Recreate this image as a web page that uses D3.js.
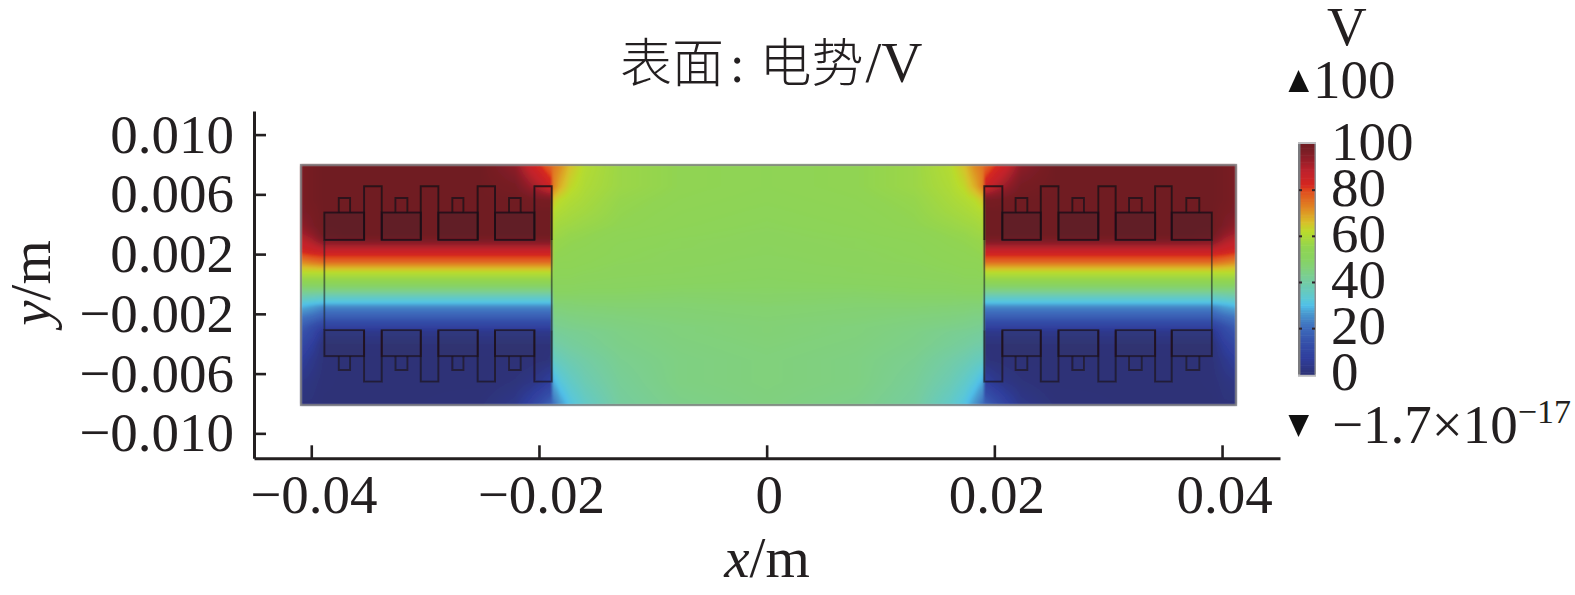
<!DOCTYPE html>
<html><head><meta charset="utf-8">
<script src="https://cdn.jsdelivr.net/npm/d3@7/dist/d3.min.js"></script>
<style>html,body{margin:0;padding:0;background:#fff;overflow:hidden}
text{font-family:"Liberation Serif","Noto Sans CJK SC",serif;fill:#231f20}</style>
</head><body><svg id="c" width="1575" height="595"></svg>
<script>
// ---- values ----
const xTicks=[-0.04,-0.02,0,0.02,0.04];
const xTickLabels=["−0.04","−0.02","0","0.02","0.04"];
const yTicks=[0.010,0.006,0.002,-0.002,-0.006,-0.010];
const yTickLabels=["0.010","0.006","0.002","−0.002","−0.006","−0.010"];
const barTicks=[100,80,60,40,20,0];
const colorVals=[0,1,7,14,21,27,30,33,40,45,50,55,62,66,72,80,82,88,94,97,100];
const colorHex=["#2d3277","#2d3379","#2f3d9c","#3550aa","#3f6fbe","#4a9cd0","#50bfe8","#5bc8d5","#73cca5","#7fd082","#88d362","#90d452","#b9dc2c","#d8c02a","#e08a22","#e04a1f","#d5261f","#c0222c","#8e1e28","#7b1e25","#701b22"];
// grid knots of the potential field (metres)
const fieldXLeft=[-.0409,-.03993,-.03887,-.03703,-.0322,-.02517,-.0221,-.02078,-.01981,-.01889,-.0188,-.01815,-.01727,-.01595,-.01288,-.00761,0];
const fieldXRight=[.00785,.013,.01607,.01739,.01827,.01904,.01912,.02006,.02103,.02235,.02542,.03245,.03728,.03912,.04017,.04123];
const fieldY=[.00795,.00654,.00561,.0048,.00393,.00333,.00293,.00246,.00206,.00146,.00112,.00079,.00012,-.00041,-.00088,-.00128,-.00155,-.00222,-.00289,-.00322,-.00409,-.0051,-.00657,-.00811];
// potential (V) per row of fieldY, per column of fieldXLeft; the right half mirrors it
const fieldHalf=[
[97,99,100,100,100,100,94,86,81,76,75,72,66,61,57,55,54],
[97,99,100,100,100,100,98,93,89,84,74,68,63,60,57,55,54],
[97,99,100,100,100,100,100,99,98,98,65,62,60.5,59,56,54.5,53.5],
[97,98,100,100,100,100,100,100,100,100,61,60,59,58,55.5,54,53],
[94,97,100,100,100,100,100,100,100,100,59,58,57.5,56.5,55,53.5,52.5],
[91,94,99,100,100,100,100,100,100,100,57.5,57,56,55.5,54,53,52],
[88,91,96,97,97,97,97,97,97,97,56.5,56,55.5,55,53.5,52.5,52],
[85,87,90,90,90,90,90,90,90,90,56,55.5,55,54.5,53,52.5,51.5],
[81,83,84,84,84,84,84,84,84,84,55.5,55,54.5,54,53,52,51.5],
[72,74,76,76,76,76,76,76,76,76,54.5,54,54,53.5,52.5,52,51],
[66,67,68,68,68,68,68,68,68,68,54,53.5,53.5,53,52,51.5,51],
[62,62,62,62,62,62,62,62,62,62,53.5,53,53,52.5,52,51.5,50.5],
[54,54,54,54,54,54,54,54,54,54,52,52,52,51.5,51,50.5,50],
[45,45,45,45,45,45,45,45,45,45,50.5,50.5,50.5,50,50,49.5,49.5],
[38,37,36,36,36,36,36,36,36,36,49,49,49,49,49,48.5,49],
[32,31,30,30,30,30,30,30,30,30,47.5,47.5,47.5,48,48,48,48.5],
[29,27,24,24,24,24,24,24,24,24,46.5,46.5,47,47,47.5,47.5,48],
[22,20,17,17,17,17,17,17,17,17,44.5,44.5,45,45.5,46,47,47.5],
[17,13,8,8,8,8,8,8,8,8,42.5,43,43.5,44,45,46,47],
[15,11,4,4,4,4,4,4,4,4,41.5,42,42.5,43,44.5,46,47],
[11,7,1,1,1,1,1,1,1,1,39.5,40,41,42,44,45.5,46.5],
[7,4,1,0,0,0,0,0.5,1,1.5,36,37,38.5,40,43,45,46],
[3,2,0.5,0,0,0,1.5,3,5,8,28,32,35,38,42,45,46],
[1,1,0,0,0,1,4,9,14,19,20,26,31,35,41,44,45.5]];
// electrode outlines (metres)
const leftTeeth=[[-.03536,-.03381],[-.03038,-.02884],[-.02538,-.02386],[-.0204,-.01888]];
const leftTabs=[[-.03758,-.03659],[-.03261,-.03156],[-.02761,-.02664],[-.02263,-.0216]];
const leftBlocks=[[-.03885,-.03536],[-.03381,-.03038],[-.02884,-.02538],[-.02386,-.0204]];
const rightTeeth=[[.01912,.0207],[.02408,.02563],[.02913,.03066],[.03412,.03558]];
const rightTabs=[[.02187,.02289],[.02685,.02787],[.03183,.03295],[.03686,.038]];
const rightBlocks=[[.0207,.02408],[.02563,.02913],[.03066,.03412],[.03558,.0391]];
const electrodeLevels={tooth:.00654,tab:.00576,blockOuter:.00478,blockInner:.00295};
const sideLines=[[-.03885,false],[-.01888,true],[.01912,true],[.0391,false]];

// ---- scales ----
const x=d3.scaleLinear().domain([-.04503,.04509]).range([254,1280]);
const y=d3.scaleLinear().domain([.01158,-.01167]).range([111,458.3]);
const barY=d3.scaleLinear().domain([0,100]).range([374.8,144]);
const color=d3.scaleLinear().domain(colorVals).range(colorHex).interpolate(d3.interpolateRgb).clamp(true);
const svg=d3.select("#c");
const FS=55;

const defs=svg.append("defs");
[["soft",0.8],["softLine",0.45]].forEach(([id,sd])=>{
  defs.append("filter").attr("id",id).attr("x","-2%").attr("y","-2%").attr("width","104%").attr("height","104%")
    .append("feGaussianBlur").attr("stdDeviation",sd);
});

// ---- field ----
const fieldX=fieldXLeft.concat(fieldXRight);
const field=fieldHalf.map(r=>r.concat(r.slice(0,-1).reverse()));
const colIndex=d3.scaleLinear().domain(fieldX).range(d3.range(fieldX.length)).clamp(true);
const rowIndex=d3.scaleLinear().domain(fieldY).range(d3.range(fieldY.length)).clamp(true);
function potential(mx,my){
  const c=colIndex(mx),r=rowIndex(my);
  const c0=Math.min(Math.floor(c),fieldX.length-2),r0=Math.min(Math.floor(r),fieldY.length-2);
  const a=d3.interpolateNumber(field[r0][c0],field[r0][c0+1])(c-c0);
  const b=d3.interpolateNumber(field[r0+1][c0],field[r0+1][c0+1])(c-c0);
  return a+(b-a)*(r-r0);
}
const px0=Math.round(x(-.0409)),px1=Math.round(x(.0412)),py0=Math.round(y(.00795)),py1=Math.round(y(-.00811));
const cv=document.createElement("canvas");cv.width=px1-px0;cv.height=py1-py0;
const g2=cv.getContext("2d");
for(let j=0;j<cv.height;j++)for(let i=0;i<cv.width;i++){
  g2.fillStyle=color(potential(x.invert(px0+i+.5),y.invert(py0+j+.5)));
  g2.fillRect(i,j,1,1);
}
svg.append("image").attr("x",px0).attr("y",py0).attr("width",cv.width).attr("height",cv.height)
  .attr("href",cv.toDataURL()).attr("filter","url(#soft)");
svg.append("rect").attr("x",px0).attr("y",py0).attr("width",cv.width).attr("height",cv.height)
  .attr("fill","none").attr("stroke","#6d6d70").attr("stroke-opacity",.7).attr("stroke-width",2.2);

// ---- electrodes ----
const geo=svg.append("g").attr("filter","url(#softLine)");
const LINE="#1c1218",LW=1.9;
const L=electrodeLevels;
const line=d3.line().x(d=>x(d[0])).y(d=>y(d[1]));
[1,-1].forEach(s=>{
  const blocks=leftBlocks.concat(rightBlocks),tabs=leftTabs.concat(rightTabs),teeth=leftTeeth.concat(rightTeeth);
  const yA=s>0?L.blockOuter:-L.blockOuter-.00005,yB=s>0?L.blockInner:-L.blockInner-.00014;
  const op=s>0?.85:.68;
  geo.selectAll(null).data(blocks).join("rect")
    .attr("x",d=>x(d[0])).attr("width",d=>x(d[1])-x(d[0]))
    .attr("y",Math.min(y(yA),y(yB))).attr("height",Math.abs(y(yA)-y(yB)))
    .attr("fill",s>0?"#2a2030":"#3a3a50").attr("fill-opacity",.2).attr("stroke",LINE).attr("stroke-width",LW).attr("stroke-opacity",op);
  geo.selectAll(null).data(tabs).join("path")
    .attr("d",d=>line([[d[0],yA],[d[0],s*L.tab],[d[1],s*L.tab],[d[1],yA]]))
    .attr("fill","none").attr("stroke",LINE).attr("stroke-width",LW).attr("stroke-opacity",op-.08);
  geo.selectAll(null).data(teeth).join("path")
    .attr("d",d=>line([[d[0],yB],[d[0],s*L.tooth],[d[1],s*L.tooth],[d[1],yB]]))
    .attr("fill","none").attr("stroke",LINE).attr("stroke-width",LW).attr("stroke-opacity",op);
});
geo.selectAll(null).data(sideLines).join("path")
  .attr("d",d=>line([[d[0],L.blockInner],[d[0],-L.blockInner-.00014]]))
  .attr("fill","none").attr("stroke","#20262a").attr("stroke-width",1.7).attr("stroke-opacity",.6);

// ---- axes ----
const axY=svg.append("g").attr("transform",`translate(${x(-.04503)},0)`)
  .call(d3.axisLeft(y).tickValues(yTicks).tickFormat((d,i)=>yTickLabels[i]).tickSize(-12).tickSizeOuter(0).tickPadding(20));
const axX=svg.append("g").attr("transform",`translate(0,${y(-.01167)})`)
  .call(d3.axisBottom(x).tickValues(xTicks).tickFormat((d,i)=>xTickLabels[i]).tickSize(-13).tickSizeOuter(0).tickPadding(16));
[axY,axX].forEach(a=>{
  a.select(".domain").attr("stroke","#231f20").attr("stroke-width",3);
  a.selectAll(".tick line").attr("stroke","#231f20").attr("stroke-width",2.6);
  a.selectAll("text").attr("font-size",FS).attr("fill","#231f20");
  a.attr("font-family",null);
});
axX.selectAll("text").attr("dx",2);

// ---- titles ----
const title=svg.append("text").attr("x",620).attr("y",82).attr("font-size",52);
title.append("tspan").attr("font-family","Noto Sans CJK SC").attr("font-weight",300).text("表面");
title.append("tspan").attr("dx",6).text(":");
title.append("tspan").attr("dx",15).attr("font-family","Noto Sans CJK SC").attr("font-weight",300).text("电势");
title.append("tspan").attr("dx",2).attr("font-size",57).text("/V");
const xt=svg.append("text").attr("x",767).attr("y",577).attr("text-anchor","middle").attr("font-size",57);
xt.append("tspan").attr("font-style","italic").text("x");xt.append("tspan").text("/m");
const yt=svg.append("text").attr("transform","translate(50,283) rotate(-90)").attr("text-anchor","middle").attr("font-size",57);
yt.append("tspan").attr("font-style","italic").text("y");yt.append("tspan").text("/m");

// ---- colour bar ----
const barX0=1300,barX1=1315;
const barG=svg.append("g");
barG.selectAll(null).data(d3.range(0,100,1)).join("rect")
  .attr("x",barX0).attr("width",barX1-barX0)
  .attr("y",d=>barY(d+1)-.3).attr("height",d=>barY(d)-barY(d+1)+.6)
  .attr("fill",d=>color(d+.5));
barG.append("rect").attr("x",barX0-2).attr("y",barY(100)).attr("width",2.5).attr("height",barY(0)-barY(100)).attr("fill","#7a7a7e");
barG.append("rect").attr("x",barX1-.5).attr("y",barY(100)).attr("width",1.5).attr("height",barY(0)-barY(100)).attr("fill","#8f8f93");
barG.append("rect").attr("x",barX0-2).attr("y",barY(100)-2).attr("width",barX1-barX0+3).attr("height",2).attr("fill","#bdbdc0");
barG.append("rect").attr("x",barX0-2).attr("y",barY(0)).attr("width",barX1-barX0+3).attr("height",2).attr("fill","#bdbdc0");
barG.selectAll(null).data(barTicks.slice(1,-1)).join("g").each(function(d){
  const g=d3.select(this);
  g.append("line").attr("x1",barX0-1).attr("x2",barX0+2).attr("y1",barY(d)).attr("y2",barY(d)).attr("stroke","#30242a").attr("stroke-width",2);
  g.append("line").attr("x1",barX1-3).attr("x2",barX1).attr("y1",barY(d)).attr("y2",barY(d)).attr("stroke","#30242a").attr("stroke-width",2);
});
svg.selectAll(null).data(barTicks).join("text").attr("x",1331).attr("y",d=>barY(d)+15.5).attr("font-size",FS).text(d=>d);

// ---- max/min legend ----
svg.append("text").attr("x",1327).attr("y",45).attr("font-size",FS).text("V");
svg.append("text").attr("x",1313).attr("y",98).attr("font-size",FS).text("100");
svg.append("path").attr("d","M1298.5,70L1309,92L1288.5,92Z").attr("fill","#111");
svg.append("path").attr("d","M1288.5,415L1309,415L1298.5,437Z").attr("fill","#111");
const mn=svg.append("text").attr("x",1332).attr("y",443).attr("font-size",FS);
mn.append("tspan").text("−1.7×10");
mn.append("tspan").attr("font-size",34).attr("dy",-20).text("−17");
</script></body></html>
